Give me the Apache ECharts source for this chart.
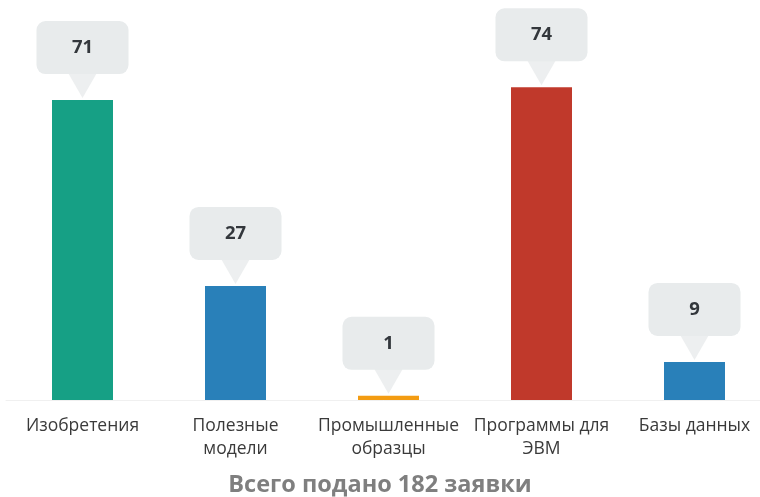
<!DOCTYPE html>
<html>
<head>
<meta charset="utf-8">
<script src="https://cdn.jsdelivr.net/npm/echarts@6/dist/echarts.min.js"></script>
<style>
html,body{margin:0;padding:0;background:#fff;}
#c{width:760px;height:497px;}
</style>
</head>
<body>
<div id="c"></div>
<script>
var categories = ['Изобретения', 'Полезные\nмодели', 'Промышленные\nобразцы', 'Программы для\nЭВМ', 'Базы данных'];
var values = [71, 27, 1, 74, 9];
var barColors = ['#16a085', '#2980b9', '#f39c12', '#c0392b', '#2980b9'];
var titleText = 'Всего подано 182 заявки';

var FONT = '"Open Sans", "Noto Sans", sans-serif';
var chart = echarts.init(document.getElementById('c'), null, {renderer: 'canvas'});

var barData = values.map(function (v, i) {
  return {value: v, itemStyle: {color: barColors[i]}};
});

chart.setOption({
  animation: false,
  textStyle: {fontFamily: FONT},
  title: {
    text: titleText,
    left: 'center',
    top: 468,
    textStyle: {fontFamily: FONT, fontSize: 23.5, fontWeight: 'bold', color: '#7f7f7f'}
  },
  grid: {left: 6, width: 765, top: 62, bottom: 97, containLabel: false, outerBoundsMode: 'none'},
  xAxis: {
    type: 'category',
    data: categories,
    axisLine: {lineStyle: {color: '#f0f0f0', width: 1}},
    axisTick: {show: false},
    axisLabel: {color: '#3a3a3a', fontSize: 17.5, lineHeight: 23, margin: 15, fontFamily: FONT, interval: 0}
  },
  yAxis: {
    type: 'value',
    min: 0,
    max: 80,
    show: false,
    splitLine: {show: false}
  },
  series: [
    {
      type: 'bar',
      data: barData,
      barWidth: 61,
      z: 2,
      label: {
        show: true,
        position: 'top',
        distance: 26,
        width: 92,
        height: 53,
        lineHeight: 53,
        padding: 0,
        align: 'center',
        backgroundColor: '#e8ebec',
        borderRadius: 9,
        fontSize: 18.5,
        fontWeight: 'bold',
        color: '#33373c',
        fontFamily: FONT
      }
    },
    {
      type: 'scatter',
      data: values,
      symbol: 'path://M0,0 L20,0 L10,20 Z',
      symbolSize: [31, 27],
      symbolOffset: [0, -15.5],
      itemStyle: {color: '#e8ebec'},
      z: 1,
      silent: true
    }
  ]
});
</script>
</body>
</html>
